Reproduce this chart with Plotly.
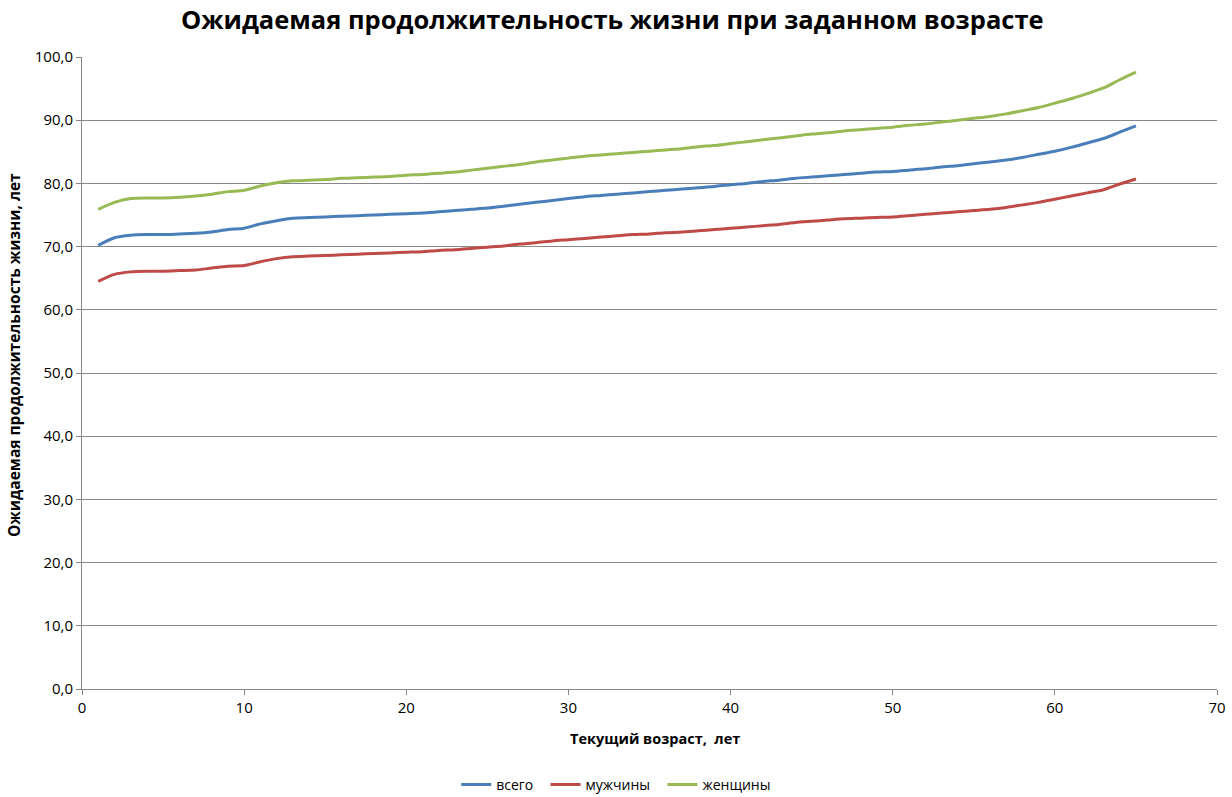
import plotly.graph_objects as go

ages = list(range(1, 66))

total = [70.2, 71.4, 71.8, 71.9, 71.9, 72.0, 72.1, 72.3, 72.7, 72.9,
         73.6, 74.1, 74.5, 74.6, 74.7, 74.8, 74.9, 75.0, 75.1, 75.2,
         75.3, 75.5, 75.7, 75.9, 76.1, 76.4, 76.7, 77.0, 77.3, 77.6,
         77.9, 78.1, 78.3, 78.5, 78.7, 78.9, 79.1, 79.3, 79.5, 79.8,
         80.0, 80.3, 80.5, 80.8, 81.0, 81.2, 81.4, 81.6, 81.8, 81.9,
         82.1, 82.3, 82.6, 82.8, 83.1, 83.4, 83.7, 84.1, 84.6, 85.1,
         85.7, 86.4, 87.1, 88.1, 89.1]

men = [64.5, 65.6, 66.0, 66.1, 66.1, 66.2, 66.3, 66.6, 66.9, 67.0,
       67.6, 68.1, 68.4, 68.5, 68.6, 68.7, 68.8, 68.9, 69.0, 69.1,
       69.2, 69.4, 69.5, 69.7, 69.9, 70.1, 70.4, 70.6, 70.9, 71.1,
       71.3, 71.5, 71.7, 71.9, 72.0, 72.2, 72.3, 72.5, 72.7, 72.9,
       73.1, 73.3, 73.5, 73.8, 74.0, 74.2, 74.4, 74.5, 74.6, 74.7,
       74.9, 75.1, 75.3, 75.5, 75.7, 75.9, 76.2, 76.6, 77.0, 77.5,
       78.0, 78.5, 79.0, 79.9, 80.7]

women = [75.9, 77.0, 77.6, 77.7, 77.7, 77.8, 78.0, 78.3, 78.7, 78.9,
         79.6, 80.1, 80.4, 80.5, 80.6, 80.8, 80.9, 81.0, 81.1, 81.3,
         81.4, 81.6, 81.8, 82.1, 82.4, 82.7, 83.0, 83.4, 83.7, 84.0,
         84.3, 84.5, 84.7, 84.9, 85.1, 85.3, 85.5, 85.8, 86.0, 86.3,
         86.6, 86.9, 87.2, 87.5, 87.8, 88.0, 88.3, 88.5, 88.7, 88.9,
         89.2, 89.4, 89.7, 90.0, 90.3, 90.6, 91.0, 91.5, 92.0, 92.7,
         93.4, 94.2, 95.1, 96.4, 97.6]

series_names = ["всего", "мужчины", "женщины"]
colors = ["#4A7EBB", "#BE4B48", "#98B954"]

FONT = "Open Sans"
PAD = "\u00a0\u00a0"

fig = go.Figure()
for name, vals, col in zip(series_names, [total, men, women], colors):
    fig.add_trace(go.Scatter(
        x=ages, y=vals, name=name + PAD, mode="lines",
        line=dict(color=col, width=3, shape="spline", smoothing=0.7),
    ))

fig.update_layout(
    width=1232, height=797,
    paper_bgcolor="white", plot_bgcolor="white",
    margin=dict(l=82, r=15, t=57, b=108, autoexpand=False),
    separators=", ",
    font=dict(family=FONT, size=14, color="#000000"),
    title=dict(
        text="<b>Ожидаемая продолжительность жизни при заданном возрасте</b>",
        x=0.497, xanchor="center", y=0.975, yanchor="middle",
        font=dict(family=FONT, size=25.5, color="#000000"),
    ),
    showlegend=True,
    legend=dict(
        orientation="h", xref="container", yref="container",
        x=0.503, xanchor="center", y=(797 - 785) / 797, yanchor="middle",
        font=dict(family=FONT, size=14, color="#000000"),
        bgcolor="rgba(0,0,0,0)",
    ),
    xaxis=dict(
        range=[0, 70], dtick=10, tick0=0, automargin=False,
        showgrid=False, zeroline=False,
        showline=True, linecolor="#868686", linewidth=1,
        ticks="outside", ticklen=5, tickcolor="#868686",
        tickfont=dict(family=FONT, size=15),
    ),
    yaxis=dict(
        range=[0, 100], dtick=10, tick0=0, tickformat=".1f", automargin=False,
        showgrid=True, gridcolor="#878787", gridwidth=1,
        zeroline=False,
        showline=True, linecolor="#868686", linewidth=1,
        ticks="outside", ticklen=5, tickcolor="#868686",
        tickfont=dict(family=FONT, size=15),
    ),
    annotations=[
        dict(text="<b>Текущий возраст,  лет</b>", xref="paper", yref="paper",
             x=(655 - 82) / 1135, y=0, yshift=-49,
             xanchor="center", yanchor="middle", showarrow=False,
             font=dict(family=FONT, size=14.5, color="#000000")),
        dict(text="<b>Ожидаемая продолжительность жизни, лет</b>",
             xref="paper", yref="paper", x=0, xshift=-68,
             y=(689 - 355) / 632, yanchor="middle", xanchor="center",
             textangle=-90, showarrow=False,
             font=dict(family=FONT, size=15.5, color="#000000")),
    ],
)

fig.write_html("out.html")
